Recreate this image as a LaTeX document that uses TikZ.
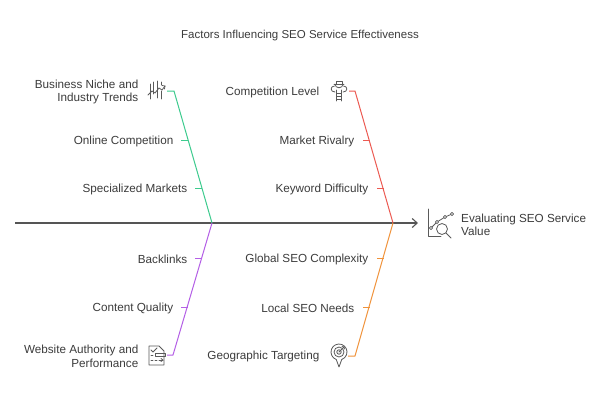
\documentclass[tikz,border=0pt]{standalone}
\usepackage{fontspec}
\setmainfont{Liberation Sans}
\usetikzlibrary{arrows.meta}
\definecolor{txt}{HTML}{3C3C3C}
\definecolor{ax}{HTML}{555555}
\definecolor{cgreen}{HTML}{3DCB8E}
\definecolor{cred}{HTML}{EC5A52}
\definecolor{cpurple}{HTML}{B45FE6}
\definecolor{corange}{HTML}{F0923A}
\definecolor{ico}{HTML}{5A5A5A}
\tikzset{
  lbl/.style={font=\fontsize{11.7}{13.5}\selectfont, text=txt, inner sep=0pt, anchor=east, align=right, yshift=-1.2pt},
  bone/.style={line width=1pt, line join=round},
  icon/.style={draw=ico, line width=0.8pt, line cap=round, line join=round},
}
\begin{document}
\begin{tikzpicture}[x=1pt,y=-1pt]
\useasboundingbox (0,0) rectangle (600,400);
\fill[white] (0,0) rectangle (600,400);

% title
\node[font=\fontsize{11.5}{13.5}\selectfont, text=txt, inner sep=0pt, yshift=-1pt] (title) at (300,35) {Factors Influencing SEO Service Effectiveness};

% spine
\coordinate (spineL) at (15,223);
\coordinate (spineR) at (418,223);
\coordinate (jg) at (212,223);
\coordinate (jr) at (393,223);
\draw[ax, line width=1.1pt, -{Straight Barb[length=5pt,width=9pt]}] (spineL) -- (spineR);

% head label and icon
\node[lbl, anchor=west, align=left] (head) at (461,223.5) {Evaluating SEO Service\\Value};
\begin{scope}[icon]
  \draw (428,209) -- (428,236) -- (441,236);
  \draw (431,228) -- (437,222) -- (445,217) -- (452,214);
  \draw[fill=white] (431,228) circle (1.6);
  \draw[fill=white] (437,222) circle (1.6);
  \draw[fill=white] (445,217) circle (1.6);
  \draw[fill=white] (452,214) circle (1.6);
  \draw[fill=white] (442,229) circle (5.5);
  \draw (446,233) -- (451,238);
\end{scope}

% green bone
\coordinate (g0) at (167,91);
\coordinate (g1) at (174,91);
\draw[bone, cgreen] (g0) -- (g1) -- (jg);
\coordinate (gt1a) at (181,140); \coordinate (gt1b) at (188,140);
\coordinate (gt2a) at (195,188); \coordinate (gt2b) at (202,188);
\draw[bone, cgreen] (gt1a) -- (gt1b);
\draw[bone, cgreen] (gt2a) -- (gt2b);

% red bone
\coordinate (r0) at (349,91);
\coordinate (r1) at (355,91);
\draw[bone, cred] (r0) -- (r1) -- (jr);
\coordinate (rt1a) at (363,140); \coordinate (rt1b) at (369.5,140);
\coordinate (rt2a) at (377,188); \coordinate (rt2b) at (383.5,188);
\draw[bone, cred] (rt1a) -- (rt1b);
\draw[bone, cred] (rt2a) -- (rt2b);

% purple bone
\coordinate (p0) at (167,355);
\coordinate (p1) at (173,355);
\draw[bone, cpurple] (jg) -- (p1) -- (p0);
\coordinate (pt1a) at (195,258); \coordinate (pt1b) at (202,258);
\coordinate (pt2a) at (181,307); \coordinate (pt2b) at (187.5,307);
\draw[bone, cpurple] (pt1a) -- (pt1b);
\draw[bone, cpurple] (pt2a) -- (pt2b);

% orange bone
\coordinate (o0) at (348,356);
\coordinate (o1) at (355,356);
\draw[bone, corange] (jr) -- (o1) -- (o0);
\coordinate (ot1a) at (377,258); \coordinate (ot1b) at (383.5,258);
\coordinate (ot2a) at (363,307); \coordinate (ot2b) at (369.5,307);
\draw[bone, corange] (ot1a) -- (ot1b);
\draw[bone, corange] (ot2a) -- (ot2b);

% labels
\node[lbl] (bn) at (138.5,91) {Business Niche and\\Industry Trends};
\node[lbl] (oc) at (173.5,140) {Online Competition};
\node[lbl] (sm) at (187.5,188) {Specialized Markets};
\node[lbl] (cl) at (319.5,91) {Competition Level};
\node[lbl] (mr) at (354.5,140) {Market Rivalry};
\node[lbl] (kd) at (368.5,188) {Keyword Difficulty};
\node[lbl] (bl) at (187.5,258) {Backlinks};
\node[lbl] (cq) at (173.5,307) {Content Quality};
\node[lbl] (wa) at (138.5,355) {Website Authority and\\Performance};
\node[lbl] (gs) at (368.5,258) {Global SEO Complexity};
\node[lbl] (ls) at (354.5,307) {Local SEO Needs};
\node[lbl] (gt) at (319.5,355) {Geographic Targeting};

% icon: business niche (bars + trend arrow)
\begin{scope}[icon]
  \draw (150,84) -- (150,99);
  \draw (153.5,82) -- (153.5,94);
  \draw (157,81) -- (157,98);
  \draw (161,82) -- (161,85);
  \draw (161,91) -- (161,99);
  \draw (148,95) -- (152,91) -- (155,93) -- (159,88) -- (162,90) -- (165,86);
  \draw (162,85.5) -- (165,86) -- (164.5,89);
\end{scope}

% icon: competition level (trophy + ladder)
\begin{scope}[icon]
  \draw (334,84) -- (344,84);
  \draw (335,84) .. controls (335,89) and (343,89) .. (343,84);
  \draw (334.5,86) .. controls (330,86) and (330,92) .. (335,92);
  \draw (343.5,86) .. controls (348,86) and (348,92) .. (343,92);
  \draw (336,81) rectangle (342,84);
  \draw (336.5,90) -- (336.5,101);
  \draw (341.5,90) -- (341.5,101);
  \draw (336.5,93) -- (341.5,93);
  \draw (336.5,96) -- (341.5,96);
  \draw (336.5,99) -- (341.5,99);
\end{scope}

% icon: website authority (document)
\begin{scope}[icon]
  \draw (149,346) -- (159,346) -- (164,351) -- (164,365) -- (149,365) -- cycle;
  \draw (151,350) -- (153,352) -- (157,348);
  \draw (151,355) -- (153,355);
  \draw (155,353.5) rectangle (165,356.5);
  \draw (151,360) -- (153,360);
  \draw (155,360) -- (157,360);
  \draw (159,360) -- (163,360);
  \draw (161,358.5) -- (163,360) -- (161,361.5);
\end{scope}

% icon: geographic targeting (pin with target)
\begin{scope}[icon]
  \draw (336.26,359.52) arc[start angle=110, end angle=430, radius=8] -- (339,367) -- cycle;
  \draw (339,352) circle (5);
  \draw (339,352) circle (2.2);
  \draw (339,352) -- (344,347);
  \draw (342,346.5) -- (344,347) -- (344.5,349);
\end{scope}

\end{tikzpicture}
\end{document}
